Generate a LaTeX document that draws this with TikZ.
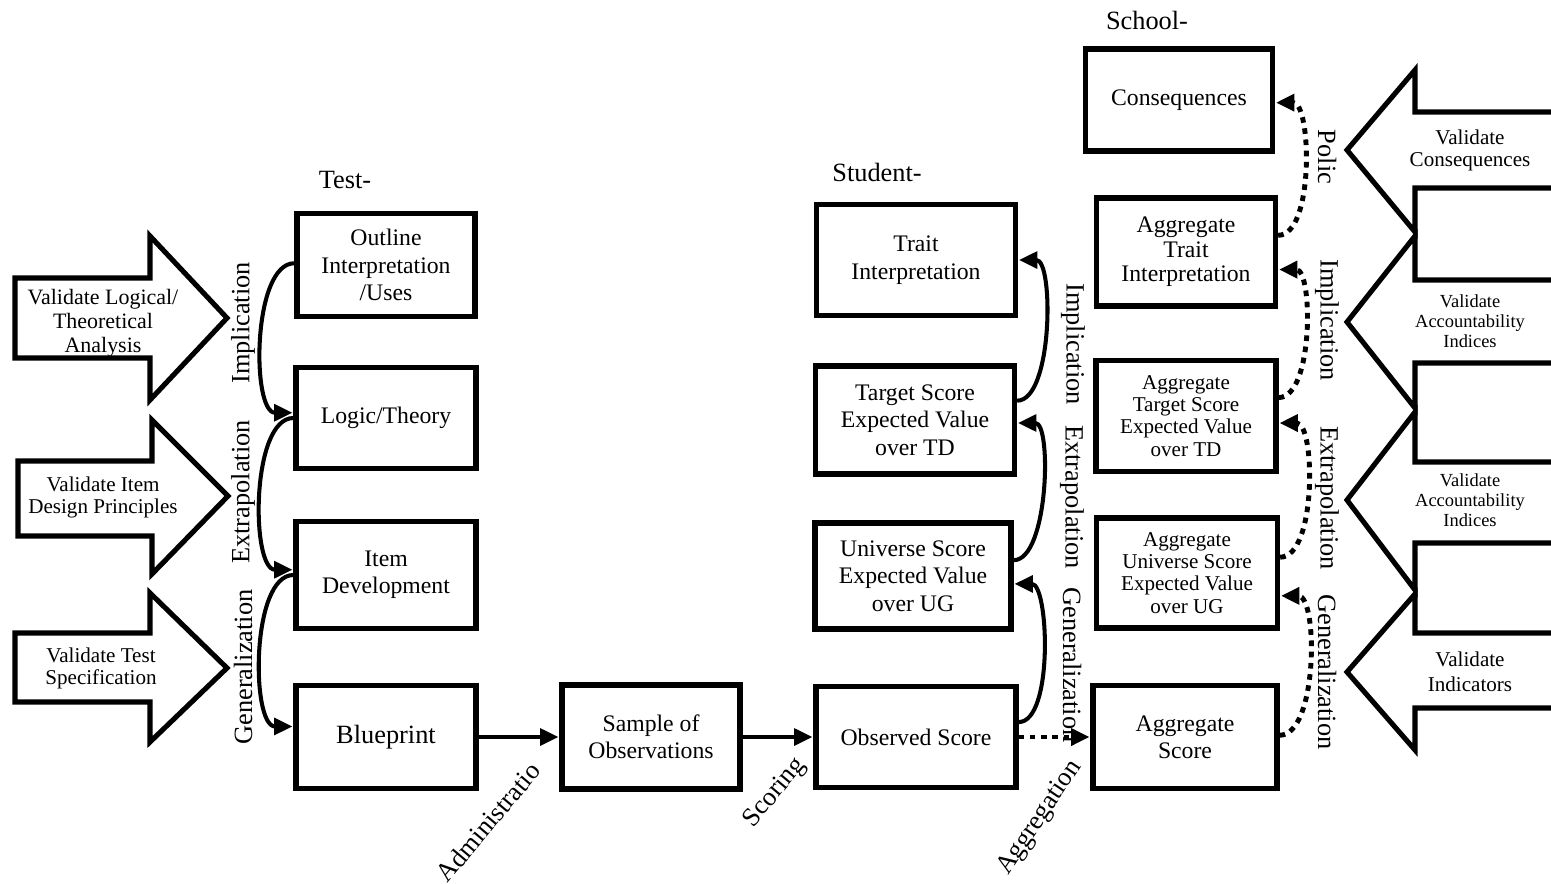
\documentclass[tikz,border=0pt]{standalone}
\usepackage{fontspec}
\setmainfont{Liberation Serif}
\usetikzlibrary{arrows.meta}

\begin{document}
\begin{tikzpicture}[
  x=0.02cm, y=-0.02cm,
  every node/.style={inner sep=1pt},
  box/.style={draw, line width=3pt, align=center, inner sep=2pt,
    font=\fontsize{13.5}{15.6}\selectfont},
  smallbox/.style={box, font=\fontsize{12}{12.6}\selectfont},
  fat/.style={draw, line width=2.9pt, line join=miter},
  fattext/.style={align=center, font=\fontsize{12}{13}\selectfont},
  link/.style={draw, line width=2.3pt, shorten >=0.5pt,
    -{Triangle[length=10.5pt,width=9.5pt]}},
  dotlink/.style={link, line width=2.8pt, dash pattern=on 3.2pt off 3.2pt},
  steplabel/.style={font=\fontsize{15}{17}\selectfont},
  levelhead/.style={font=\fontsize{15}{17}\selectfont}]

  \useasboundingbox (0,0) rectangle (1551,883);

  % ---- test level column ----------------------------------------------------
  \node[box, minimum width=3.56cm, minimum height=2.06cm] (outline)   at (386,265) {Outline\\Interpretation\\/Uses};
  \node[box, minimum width=3.60cm, minimum height=2.02cm] (logic)     at (386,418) {Logic/Theory};
  \node[box, minimum width=3.60cm, minimum height=2.14cm] (itemdev)   at (386,575) {Item\\Development};
  \node[box, minimum width=3.60cm, minimum height=2.06cm,
        font=\fontsize{15}{17}\selectfont]                 (blueprint) at (386,737) {Blueprint};
  \node[box, minimum width=3.56cm, minimum height=2.08cm] (sample)    at (651,737) {Sample of\\Observations};

  % ---- student level column -------------------------------------------------
  \node[box, minimum width=4.00cm, minimum height=2.02cm] (observed)  at (916,737) {Observed Score};
  \node[box, minimum width=3.92cm, minimum height=2.12cm] (universe)  at (913,576) {Universe Score\\Expected Value\\over UG};
  \node[box, minimum width=3.98cm, minimum height=2.16cm] (target)    at (915,420) {Target Score\\Expected Value\\over TD};
  \node[box, minimum width=3.98cm, minimum height=2.22cm] (trait)     at (916,260) {Trait\\Interpretation};

  % ---- school level column --------------------------------------------------
  \node[box, minimum width=3.74cm, minimum height=2.04cm] (conseq)      at (1179,100) {Consequences};
  \node[box, minimum width=3.58cm, minimum height=2.16cm,
        font=\fontsize{13.5}{13.9}\selectfont]             (aggtrait)    at (1186,252) {Aggregate\\Trait\\Interpretation};
  \node[smallbox, minimum width=3.60cm, minimum height=2.22cm] (aggtarget)   at (1186,416) {Aggregate\\Target Score\\Expected Value\\over TD};
  \node[smallbox, minimum width=3.62cm, minimum height=2.20cm] (agguniverse) at (1187,573) {Aggregate\\Universe Score\\Expected Value\\over UG};
  \node[box, minimum width=3.68cm, minimum height=2.06cm] (aggscore)    at (1185,737) {Aggregate\\Score};

  % ---- level headings (second line hidden behind the boxes) -----------------
  \node[levelhead] (testhead)    at (345,180)  {Test-};
  \node[levelhead] (studenthead) at (877,172)  {Student-};
  \node[levelhead] (schoolhead)  at (1147,20)  {School-};

  % ---- validation arrows, left ----------------------------------------------
  \draw[fat] (15,278) -- (150,278) -- (150,236) -- (227,318) -- (150,400) -- (150,358) -- (15,358) -- cycle;
  \draw[fat] (18,461) -- (152,461) -- (152,420) -- (228,496) -- (152,574) -- (152,536) -- (18,536) -- cycle;
  \draw[fat] (15,633) -- (150,633) -- (150,593) -- (227,668) -- (150,742) -- (150,702) -- (15,702) -- cycle;
  \node[fattext, font=\fontsize{12.5}{13.6}\selectfont] (vlogic) at (103,323) {Validate Logical/\\Theoretical\\Analysis};
  \node[fattext, font=\fontsize{12}{12.5}\selectfont]   (vitem)  at (103,497) {Validate Item\\Design Principles};
  \node[fattext, font=\fontsize{12}{12.5}\selectfont]   (vspec)  at (101,668) {Validate Test\\Specification};

  % ---- validation arrows, right (shafts run off the page) -------------------
  \draw[fat] (1565,112) -- (1415,112) -- (1415,70)  -- (1347,150) -- (1415,232) -- (1415,188) -- (1565,188);
  \draw[fat] (1565,280) -- (1415,280) -- (1415,236) -- (1347,322) -- (1415,408) -- (1415,363) -- (1565,363);
  \draw[fat] (1565,462) -- (1415,462) -- (1415,412) -- (1347,500) -- (1415,590) -- (1415,543) -- (1565,543);
  \draw[fat] (1565,633) -- (1415,633) -- (1415,594) -- (1347,672) -- (1415,750) -- (1415,708) -- (1565,708);
  \node[fattext, font=\fontsize{12}{12.5}\selectfont]   (vconseq) at (1470,150) {Validate\\Consequences};
  \node[fattext, font=\fontsize{10.5}{11.3}\selectfont] (vindexa) at (1470,321) {Validate\\Accountability\\Indices};
  \node[fattext, font=\fontsize{10.5}{11.3}\selectfont] (vindexb) at (1470,500) {Validate\\Accountability\\Indices};
  \node[fattext, font=\fontsize{12}{14}\selectfont]     (vindic)  at (1470,672) {Validate\\Indicators};

  % ---- inference links ------------------------------------------------------
  \draw[link] ([yshift=1pt]outline.west) to[out=180, in=180, looseness=0.72] ([yshift=3pt]logic.west);
  \draw[link] (logic.west) to[out=180, in=180, looseness=0.72] ([yshift=3pt]itemdev.west);
  \draw[link] (itemdev.west) to[out=180, in=180, looseness=0.72] ([yshift=6pt]blueprint.west);

  \draw[link] (blueprint.east) -- (sample.west);
  \draw[link] (sample.east) -- (observed.west);
  \draw[dotlink] (observed.east) -- (aggscore.west);

  \draw[link] ([yshift=8.5pt]observed.east) to[out=0, in=0, looseness=0.65] ([yshift=-4.5pt]universe.east);
  \draw[link] ([yshift=9pt]universe.east) to[out=0, in=0, looseness=0.65] ([yshift=-1.7pt]target.east);
  \draw[link] ([yshift=11pt]target.east) to[out=0, in=0, looseness=0.65] (trait.east);

  \draw[dotlink] ([yshift=1pt]aggscore.east) to[out=0, in=0, looseness=0.7] ([yshift=-13pt]agguniverse.east);
  \draw[dotlink] ([yshift=9pt]agguniverse.east) to[out=0, in=0, looseness=0.7] ([yshift=-4pt]aggtarget.east);
  \draw[dotlink] ([yshift=10.5pt]aggtarget.east) to[out=0, in=0, looseness=0.7] ([yshift=-10pt]aggtrait.east);
  \draw[dotlink] ([yshift=9.5pt]aggtrait.east) to[out=0, in=0, looseness=0.7] ([yshift=-1.5pt]conseq.east);

  % ---- link labels ----------------------------------------------------------
  \node[steplabel, rotate=90] (limp) at (243,323) {Implication};
  \node[steplabel, rotate=90] (lext) at (243,492) {Extrapolation};
  \node[steplabel, rotate=90] (lgen) at (243,667) {Generalization};

  \node[steplabel, rotate=-90] (mimp) at (1073,344) {Implication};
  \node[steplabel, rotate=-90] (mext) at (1072,497) {Extrapolation};
  \node[steplabel, rotate=-90] (mgen) at (1072,665) {Generalization};

  \node[steplabel, rotate=-90] (rpol) at (1327,157) {Polic};
  \node[steplabel, rotate=-90] (rimp) at (1327,320) {Implication};
  \node[steplabel, rotate=-90] (rext) at (1327,498) {Extrapolation};
  \node[steplabel, rotate=-90] (rgen) at (1327,672) {Generalization};

  \node[steplabel, rotate=50] (admin) at (488,822)  {Administratio};
  \node[steplabel, rotate=50] (score) at (775,793)  {Scoring};
  \node[steplabel, rotate=56] (aggr)  at (1040,818) {Aggregation};
\end{tikzpicture}
\end{document}
